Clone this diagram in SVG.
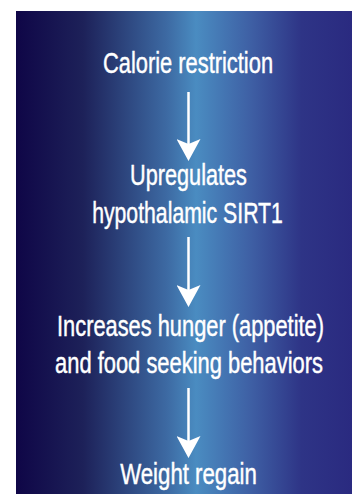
<svg xmlns="http://www.w3.org/2000/svg" width="352" height="494" viewBox="0 0 352 494">
  <style>
    .lbl { font-family: "Liberation Sans", Arial, sans-serif; font-size: 29px; fill: #ffffff; stroke: #ffffff; stroke-width: 0.45; text-anchor: middle; }
    .conn { stroke: #ffffff; stroke-width: 2.5; fill: none; marker-end: url(#head); }
  </style>
  <defs>
    <linearGradient id="bg" x1="16" y1="0" x2="352" y2="0" gradientUnits="userSpaceOnUse">
      <stop offset="0" stop-color="#0f0647"/>
      <stop offset="0.2" stop-color="#1d2159"/>
      <stop offset="0.45" stop-color="#3d6aa3"/>
      <stop offset="0.536" stop-color="#4a8cc1"/>
      <stop offset="0.7" stop-color="#3e5fa4"/>
      <stop offset="0.85" stop-color="#2e3486"/>
      <stop offset="1" stop-color="#2a2a80"/>
    </linearGradient>
    <marker id="head" viewBox="0 0 22 24" markerWidth="22" markerHeight="24" refX="12" refY="12" orient="auto" markerUnits="userSpaceOnUse">
      <path d="M0,0 L22,12 L0,24 L5,12 Z" fill="#ffffff"/>
    </marker>
  </defs>
  <rect x="0" y="0" width="352" height="494" fill="#ffffff"/>
  <rect x="16" y="11" width="336" height="483" fill="url(#bg)"/>

  <g id="connectors">
    <line class="conn" x1="188.5" y1="92" x2="188.5" y2="151"/>
    <line class="conn" x1="188.5" y1="237" x2="188.5" y2="297"/>
    <line class="conn" x1="188.5" y1="388" x2="188.5" y2="448"/>
  </g>

  <g id="node-calorie">
    <text class="lbl" transform="translate(188,72.5) scale(0.754,1)">Calorie restriction</text>
  </g>
  <g id="node-sirt1">
    <text class="lbl" transform="translate(188.5,185) scale(0.748,1)">Upregulates</text>
    <text class="lbl" transform="translate(187.5,223) scale(0.732,1)">hypothalamic SIRT1</text>
  </g>
  <g id="node-hunger">
    <text class="lbl" transform="translate(190.5,336) scale(0.753,1)">Increases hunger (appetite)</text>
    <text class="lbl" transform="translate(189,373) scale(0.756,1)">and food seeking behaviors</text>
  </g>
  <g id="node-regain">
    <text class="lbl" transform="translate(188.5,484) scale(0.766,1)">Weight regain</text>
  </g>
</svg>
